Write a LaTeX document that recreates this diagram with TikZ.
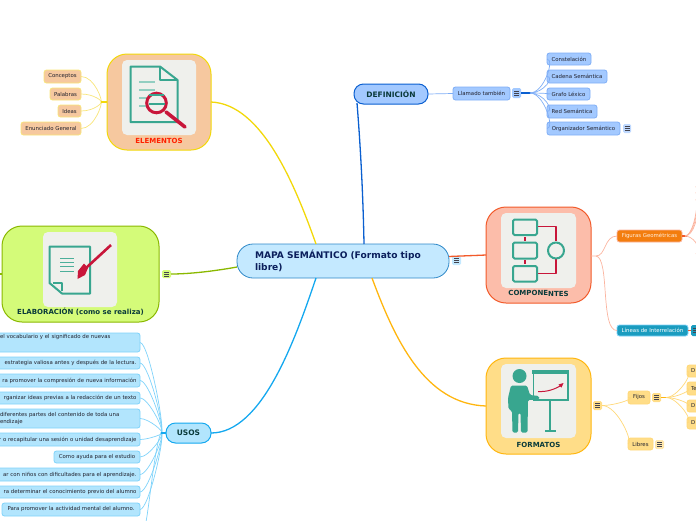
\documentclass[tikz,border=0pt]{standalone}
\usepackage{fontspec}
\setmainfont{DejaVu Sans}
\definecolor{cyanB}{HTML}{14A8EF}\definecolor{cyanF}{HTML}{B2E5FD}\definecolor{cyanL}{HTML}{7FD3FA}
\definecolor{yelB}{HTML}{F2D80A}\definecolor{yelL}{HTML}{F8E57A}\definecolor{yelF}{HTML}{F6C89F}
\definecolor{greB}{HTML}{8AB800}\definecolor{greF}{HTML}{D4FB79}
\definecolor{bluB}{HTML}{0A5FD0}\definecolor{bluF}{HTML}{A3C9FF}\definecolor{bluL}{HTML}{7FAEF6}
\definecolor{redB}{HTML}{F25A2A}\definecolor{redF}{HTML}{FCBDAA}\definecolor{redL}{HTML}{FBB49F}
\definecolor{oraB}{HTML}{FFB60F}\definecolor{oraF}{HTML}{FFDD88}\definecolor{oraL}{HTML}{FFD878}
\definecolor{cenF}{HTML}{C4E9FF}\definecolor{cenB}{HTML}{2E88C8}
\definecolor{figF}{HTML}{F37D0E}\definecolor{linF}{HTML}{1A9CBF}
\definecolor{teal}{HTML}{38A68F}\definecolor{crim}{HTML}{C8163A}\definecolor{paper}{HTML}{EFF0EC}
\definecolor{ink}{HTML}{0A3A3A}\definecolor{leafink}{HTML}{22222E}\definecolor{cenink}{HTML}{0B1F5C}
\tikzset{
 base/.style={inner sep=0pt,outer sep=0pt,align=center,rounded corners=2.5pt,line width=.8pt},
 leaf/.style={base,font=\fontsize{5.4}{6.6}\selectfont,text=leafink},
 lcyan/.style={leaf,fill=cyanF,draw=cyanL},
 lyel/.style={leaf,fill=yelF,draw=yelL},
 lblu/.style={leaf,fill=bluF,draw=bluL},
 lora/.style={leaf,fill=oraF,draw=oraL},
 lfig/.style={leaf,fill=figF,draw=redL,text=white!88!orange},
 llin/.style={leaf,fill=linF,draw=cyanL,text=white},
 topic/.style={base,rounded corners=9.5pt,line width=1pt,font=\bfseries\fontsize{7.5}{9}\selectfont,text=ink},
 card/.style={base,rounded corners=20pt,line width=1pt},
 paperbox/.style={base,fill=paper,draw=none,rounded corners=5pt},
 clabel/.style={inner sep=0pt,font=\bfseries\fontsize{7}{8}\selectfont,text=ink},
 menu/.style={base,rounded corners=1.5pt,draw=none,fill=#1,path picture={
   \foreach \k in {-1.8,0,1.8}{\draw[line width=.6pt,leafink!85] ([xshift=-2.5pt,yshift=\k pt]path picture bounding box.center) -- ([xshift=2.5pt,yshift=\k pt]path picture bounding box.center);}}},
 con/.style={line width=.7pt},
 main/.style={line width=1.3pt},
 icon/.style={teal,line width=2pt,line join=round},
 iconred/.style={crim,line width=1.7pt,line join=round},
}
\newcommand\bx[7][]{\node[#2,#1,minimum width={(#5-#3)*1pt},minimum height={(#6-#4)*1pt}] (#7) at ({(#3+#5)/2},{(#4+#6)/2})}
\begin{document}
\begin{tikzpicture}[x=1pt,y=-1pt]
\useasboundingbox (0,0) rectangle (696,520);
\clip (0,0) rectangle (696,520);

% nodes
\bx[text width=176pt,align=left,font=\bfseries\fontsize{9.1}{11.5}\selectfont,text=cenink,rounded corners=16pt]{base,fill=cenF,draw=cenB}{237}{244}{449}{278}{center}{MAPA SEMÁNTICO (Formato tipo\\libre)};
\bx[]{menu=cenF}{452}{256}{461}{265}{mcen}{};

\bx[]{topic,fill=bluF,draw=bluB}{354}{84}{428}{104}{def}{DEFINICIÓN};
\bx[]{lblu}{453}{87}{510}{100}{llam}{Llamado también};
\bx[]{menu=bluF}{512}{88}{521}{98}{mllam}{};
\bx[]{lblu}{547}{53}{591}{65}{d1}{Constelación};
\bx[]{lblu}{547}{70}{607}{83}{d2}{Cadena Semántica};
\bx[]{lblu}{547}{88}{590}{100}{d3}{Grafo Léxico};
\bx[]{lblu}{547}{105}{597}{118}{d4}{Red Semántica};
\bx[]{lblu}{547}{122}{620}{135}{d5}{Organizador Semántico};
\bx[]{menu=bluF!70}{623}{124}{631}{133}{md5}{};

\bx[]{card,fill=yelF,draw=yelB}{107}{54}{211}{150}{ele}{};
\bx[]{lyel}{44}{70}{81}{83}{e1}{Conceptos};
\bx[]{lyel}{50}{88}{81}{100}{e2}{Palabras};
\bx[]{lyel}{58}{105}{81}{117}{e3}{Ideas};
\bx[]{lyel}{21}{122}{81}{135}{e4}{Enunciado General};

\bx[]{card,fill=greF,draw=greB}{2}{226}{159}{322}{ela}{};
\bx[]{menu=greF}{162}{270}{171}{278}{mela}{};
\coordinate (elaL) at (0,274);

\bx[]{topic,fill=cyanF,draw=cyanB}{166}{423}{211}{443}{usos}{USOS};
\bx[text width=170pt,align=left]{lcyan}{-30}{333}{140}{352}{u1}{\hspace*{30pt}el vocabulario y el significado de nuevas\\[5pt]\mbox{}};
\bx[align=right,text width=143pt]{lcyan}{-10}{357}{140}{369}{u2}{estrategia valiosa antes y después de la lectura.};
\bx[align=right,text width=143pt]{lcyan}{-10}{374}{140}{387}{u3}{ra promover la compresión de nueva información};
\bx[align=right,text width=143pt]{lcyan}{-10}{392}{140}{404}{u4}{rganizar ideas previas a la redacción de un texto};
\bx[text width=170pt,align=left]{lcyan}{-30}{409}{140}{428}{u5}{\hspace*{30pt}diferentes partes del contenido de toda una\\\hspace*{30pt}endizaje};
\bx[align=right,text width=143pt]{lcyan}{-10}{433}{140}{446}{u6}{r o recapitular una sesión o unidad desaprendizaje};
\bx[]{lcyan}{54}{451}{140}{463}{u7}{Como ayuda para el estudio};
\bx[align=right,text width=143pt]{lcyan}{-10}{468}{140}{481}{u8}{ar con niños con dificultades para el aprendizaje.};
\bx[align=right,text width=143pt]{lcyan}{-10}{486}{140}{498}{u9}{ra determinar el conocimiento previo del alumno};
\bx[]{lcyan}{2}{503}{140}{516}{u10}{Para promover la actividad mental del alumno.};
\coordinate (u11) at (146,522);

\bx[]{card,fill=redF,draw=redB}{486}{207}{591}{303}{com}{};
\bx[]{lfig}{617}{230}{682}{242}{fig}{Figuras Geométricas};
\bx[]{llin}{617}{325}{688}{336}{lin}{Líneas de Interrelación};
\bx[]{menu=linF}{691}{325}{700}{336}{mlin}{};
\coordinate (f1) at (696,186);\coordinate (f2) at (696,192);\coordinate (f3) at (696,199);\coordinate (f4) at (696,254);

\bx[]{card,fill=oraF,draw=oraB}{486}{358}{591}{454}{for}{};
\bx[]{menu=oraF}{593}{401}{602}{410}{mfor}{};
\bx[]{lora}{628}{391}{650}{404}{fij}{Fijos};
\bx[]{menu=oraF}{652}{393}{661}{402}{mfij}{};
\bx[]{lora}{628}{438}{653}{450}{lib}{Libres};
\bx[]{menu=oraF!70}{655}{440}{664}{449}{mlib}{};
\bx[align=left,text width=20pt]{lora}{687}{365}{712}{377}{g1}{\hspace*{1.5pt}D};
\bx[align=left,text width=20pt]{lora}{687}{382}{712}{395}{g2}{\hspace*{1.5pt}Te};
\bx[align=left,text width=20pt]{lora}{687}{400}{712}{412}{g3}{\hspace*{1.5pt}D};
\bx[align=left,text width=20pt]{lora}{687}{417}{712}{429}{g4}{\hspace*{1.5pt}D};

% main connectors
\draw[main,yelB] (ele.east|-0,102) .. controls (262,104) and (295,185) .. ([xshift=-27pt]center.north);
\draw[main,bluB] (357,103) .. controls (360,140) and (363,190) .. ([xshift=21pt]center.north);
\draw[main,cyanB] (usos.east) .. controls (262,433) and (295,340) .. ([xshift=-27pt]center.south);
\draw[main,oraB] ([xshift=29pt]center.south) .. controls (395,340) and (425,404) .. (for.west|-0,406);
\draw[main,redB] (449,256.5) .. controls (460,256) and (475,255.5) .. (com.west);
\draw[main,greB] (mela.east) .. controls (190,274) and (215,271) .. (237,267);
\draw[main,greB] (elaL) -- (2,274);

% Definicion
\draw[con,bluL] (def.east) -- (llam.west);
\draw[main,bluB] (mllam.east) -- +(10,0);
\foreach \n in {d1,d2,d3,d4,d5}{\draw[con,bluL] (mllam.east)++(9,0) .. controls +(14,0) and +(8,0) .. (\n.west);}
% Elementos
\foreach \n in {e1,e2,e3,e4}{\draw[con,yelL] (\n.east) .. controls +(14,0) and +(2,0) .. (101,102);}
\draw[main,yelB] (101,102) -- (ele.west|-0,102);
% Usos
\foreach \n in {u1,u2,u3,u4,u5,u6,u7,u8,u9,u10}{\draw[con,cyanL] (\n.east) .. controls +(9,0) and +(5,0) .. (161,433);}
\draw[con,cyanL] (u11) .. controls (150,500) and (155,445) .. (161,433);
\draw[main,cyanB] (161,433) -- (usos.west);
% Componentes
\draw[con,redL] (591,256) -- (596,256) .. controls (606,256) and (604,236) .. (fig.west);
\draw[con,redL] (596,256) .. controls (610,258) and (600,331) .. (lin.west);
\draw[main,redB] (fig.east) -- +(5,0);
\foreach \n in {f1,f2,f3}{\draw[con,redL] (fig.east)++(3,0) .. controls +(8,0) and +(4,18) .. (\n);}
\draw[con,redL] (fig.east)++(3,0) .. controls +(7,0) and +(6,-8) .. (f4);
\draw[main,redB] (lin.east) -- (mlin.west);
% Formatos
\draw[con,oraL] (mfor.east) .. controls +(14,0) and +(10,0) .. (fij.west);
\draw[con,oraL] (mfor.east) .. controls +(16,0) and +(6,0) .. (lib.west);
\draw[main,oraB] (mfij.east) -- +(8,0);
\foreach \n in {g1,g2,g3,g4}{\draw[con,oraL] (mfij.east)++(5,0) .. controls +(12,0) and +(8,0) .. (\n.west);}

% ELEMENTOS icon
\bx[]{paperbox}{122}{60}{196}{135}{pe}{};
\draw[icon] (130.5,66.5) -- (160,66.5) -- (177.5,80) -- (177.5,122) -- (130.5,122) -- cycle;
\draw[icon,line width=1.5pt] (160,66.5) -- (160,80) -- (177.5,80);
\foreach \y/\e in {82/155,90/155,98/150,106/148}{\draw[teal!55,line width=1.3pt] (139,\y) -- (\e,\y);}
\draw[crim,line width=3pt,fill=paper] (156.5,103) circle (9.8);
\draw[teal,line width=1.3pt] (149,95) -- (164,95) (149,104) -- (165,104);
\draw[crim,line width=3.6pt,line cap=round] (166,112) -- (185,127);
\node[clabel,text=red!75!orange] (le) at (159,141) {ELEMENTOS};

% ELABORACION icon
\bx[]{paperbox}{43}{232}{117}{307}{pa}{};
\draw[icon] (49.5,246.5) -- (90,246.5) -- (90,293.5) -- (62,293.5) -- (49.5,283) -- cycle;
\draw[icon,line width=1.2pt] (53,283) -- (62,283) -- (62,291);
\foreach \y in {258,262,266,271}{\draw[teal!90,line width=1pt] (60,\y) -- (74,\y);}
\draw[crim,line width=2.6pt] (111,245) -- (86,268);
\fill[crim] (88,268) -- (84,263.5) -- (78,271) -- (77.5,279) -- (85,275) -- cycle;
\node[clabel] (la) at (80.5,312) {ELABORACIÓN (como se realiza)};

% COMPONENTES icon
\bx[]{paperbox}{501}{213}{576}{288}{pc}{};
\draw[iconred] (537,226.5) -- (556,226.5) -- (556,241) (537,273.5) -- (556,273.5) -- (556,259);
\draw[icon,rounded corners=1.5pt] (513,219.5) rectangle (537,235);
\draw[icon,rounded corners=1.5pt] (513,242.5) rectangle (537,258.5);
\draw[icon,rounded corners=1.5pt] (513,266) rectangle (537,281.5);
\draw[icon] (556,250.5) circle (8);
\draw[iconred] (525,237) -- (525,240.5) (525,260) -- (525,263.5);
\node[clabel] (lc) at (538.5,293.5) {COMPONE\raisebox{-.9pt}{NTES}};

% FORMATOS icon
\bx[]{paperbox}{501}{364}{576}{438}{pf}{};
\fill[teal] (519.5,376) circle (7);
\fill[teal,rounded corners=1.5pt] (511,385.5) -- (527,385.5) -- (530,395) -- (539,396) -- (539.5,399.5) -- (528,400) -- (527.5,432.5) -- (521,432.5) -- (520.5,413) -- (518.5,413) -- (518,432.5) -- (512.5,432.5) -- (512,411) -- (508.5,409) -- (508,398) -- cycle;
\draw[teal,line width=1.4pt] (533.5,371) rectangle (568,400);
\fill[teal] (532,369.5) rectangle (569,373.5);
\draw[teal,line width=1.4pt] (550,400) -- (550,431);
\draw[teal,line width=2pt] (545,431) -- (555.5,431);
\draw[crim,line width=1pt] (538,391.5) .. controls (548,392) and (555,389) .. (562,385);
\fill[crim] (563.5,383) -- (558.5,384.5) -- (561.5,387.5) -- cycle;
\node[clabel] (lf) at (538.5,444.5) {FORMATOS};
\end{tikzpicture}
\end{document}
